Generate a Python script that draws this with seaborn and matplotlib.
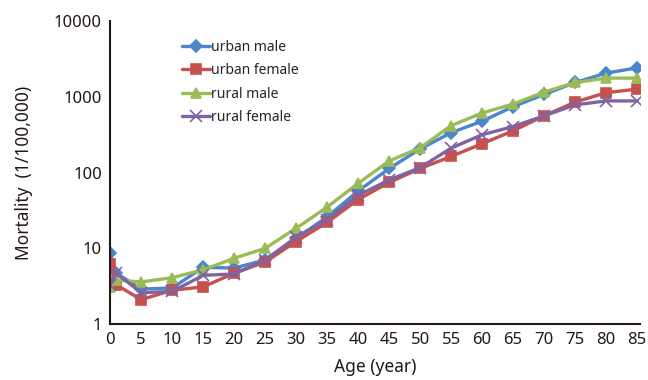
import matplotlib
matplotlib.use("Agg")
import matplotlib.pyplot as plt
import seaborn as sns
import pandas as pd
from matplotlib.ticker import FixedLocator, NullLocator

ages = [0, 1, 5, 10, 15, 20, 25, 30, 35, 40, 45, 50, 55, 60, 65, 70, 75, 80, 85]
urban_male = [8.6, 4.7, 2.9, 3.0, 5.6, 5.5, 7.0, 13.5, 26, 57, 113, 204, 336, 475, 740, 1070, 1540, 2050, 2400]
urban_female = [6.3, 3.3, 2.1, 2.8, 3.1, 4.7, 6.6, 12.3, 22, 44, 74, 113, 163, 240, 355, 560, 850, 1130, 1260]
rural_male = [3.1, 3.8, 3.6, 4.1, 5.2, 7.4, 10.0, 18.4, 35, 72, 142, 212, 415, 610, 800, 1150, 1540, 1760, 1760]
rural_female = [3.3, 4.7, 2.6, 2.7, 4.4, 4.6, 7.0, 14.0, 24, 50, 80, 116, 210, 315, 404, 560, 780, 880, 880]

series = {
    "urban male": urban_male,
    "urban female": urban_female,
    "rural male": rural_male,
    "rural female": rural_female,
}

sns.set_style("white")
plt.rcParams["font.family"] = ["Noto Sans", "DejaVu Sans"]

colors = {"urban male": "#4A86C8", "urban female": "#C8504D",
          "rural male": "#9BBB59", "rural female": "#8064A2"}
markers = {"urban male": "D", "urban female": "s", "rural male": "^", "rural female": "x"}

fig = plt.figure(figsize=(6.48, 3.8), dpi=100)
ax = fig.add_axes([0.170, 0.147, 0.818, 0.798])

for name, vals in series.items():
    df = pd.DataFrame({"Age": ages, "Mortality": vals})
    c = colors[name]
    m = markers[name]
    kw = dict(marker=m, markersize=6.5, markeredgecolor=c, markerfacecolor=c, markeredgewidth=1.2)
    if m == "x":
        kw["markersize"] = 8
    sns.lineplot(data=df, x="Age", y="Mortality", color=c, linewidth=2.4,
                 label=name, ax=ax, **kw)

ax.set_yscale("log")
ax.set_ylim(1, 10000)
ax.set_xlim(0, 85.5)
ax.yaxis.set_major_locator(FixedLocator([1, 10, 100, 1000, 10000]))
ax.yaxis.set_minor_locator(NullLocator())
ax.set_yticklabels(["1", "10", "100", "1000", "10000"])
ax.set_xticks(list(range(0, 86, 5)))

for s in ["top", "right"]:
    ax.spines[s].set_visible(False)
for s in ["left", "bottom"]:
    ax.spines[s].set_color("#231815")
    ax.spines[s].set_linewidth(1.5)
ax.tick_params(axis="y", direction="in", length=5, width=1.2, labelsize=12, colors="#231815", pad=6)
ax.tick_params(axis="x", direction="out", length=5, width=1.2, labelsize=12, colors="#231815", pad=1)

ax.set_xlabel("Age (year)", fontsize=12.5, color="#231815", labelpad=7)
ax.set_ylabel("Mortality  (1/100,000)", fontsize=12.5, color="#231815", labelpad=15)

h, l = ax.get_legend_handles_labels()
leg = ax.legend(h, l, loc="upper left", bbox_to_anchor=(0.12, 0.965), frameon=False,
                fontsize=10, handlelength=2.0, handletextpad=0.1, labelspacing=0.6,
                borderaxespad=0.2)

fig.savefig("out.png", dpi=100)
